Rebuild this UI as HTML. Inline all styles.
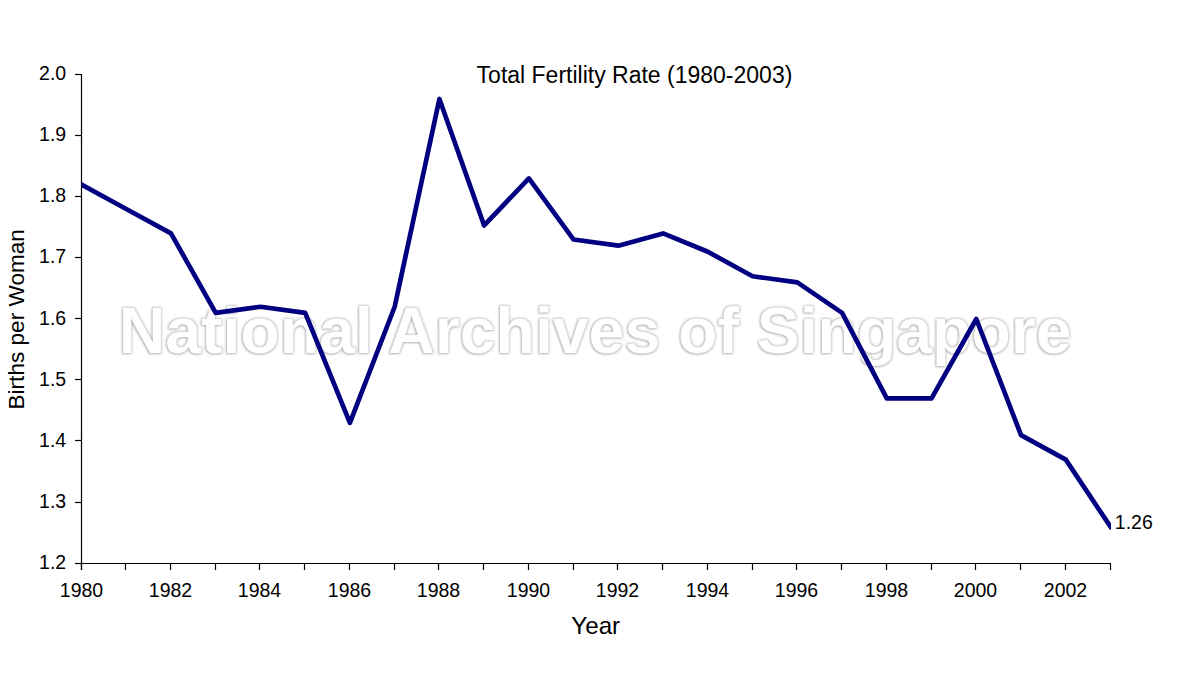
<!DOCTYPE html>
<html><head><meta charset="utf-8"><style>
html,body{margin:0;padding:0;background:#fff;overflow:hidden;}
svg{display:block;font-family:"Liberation Sans", sans-serif;}
</style></head><body>
<svg width="1193" height="676" viewBox="0 0 1193 676" >
<defs><filter id="blur" x="-5%" y="-20%" width="110%" height="140%"><feGaussianBlur stdDeviation="1.1"/></filter>
<filter id="wmo" x="-3%" y="-25%" width="106%" height="150%" color-interpolation-filters="sRGB">
<feMorphology in="SourceAlpha" operator="dilate" radius="1.2" result="dil"/>
<feGaussianBlur in="dil" stdDeviation="0.9" result="dilb"/>
<feComponentTransfer in="dilb" result="o1"><feFuncA type="linear" slope="0.2"/></feComponentTransfer>
<feOffset in="SourceAlpha" dx="-1.0" dy="1.0" result="off"/>
<feGaussianBlur in="off" stdDeviation="1.1" result="offb"/>
<feComponentTransfer in="offb" result="o2"><feFuncA type="linear" slope="0.13"/></feComponentTransfer>
<feMerge result="m"><feMergeNode in="o1"/><feMergeNode in="o2"/></feMerge>
<feComposite in="m" in2="SourceAlpha" operator="out"/>
</filter>
<clipPath id="plot"><rect x="81.5" y="0" width="1029.5" height="676"/></clipPath></defs>
<rect width="1193" height="676" fill="#fff"/>
<line x1="81.5" y1="74" x2="81.5" y2="570" stroke="#000" stroke-width="1.2"/><line x1="75" y1="563.5" x2="1111" y2="563.5" stroke="#000" stroke-width="1.2"/><line x1="75" y1="563.5" x2="81.5" y2="563.5" stroke="#000" stroke-width="1.2"/><text x="66.2" y="568.70" text-anchor="end" font-size="19.5">1.2</text><line x1="75" y1="502.5" x2="81.5" y2="502.5" stroke="#000" stroke-width="1.2"/><text x="66.2" y="507.57" text-anchor="end" font-size="19.5">1.3</text><line x1="75" y1="440.5" x2="81.5" y2="440.5" stroke="#000" stroke-width="1.2"/><text x="66.2" y="447.45" text-anchor="end" font-size="19.5">1.4</text><line x1="75" y1="379.5" x2="81.5" y2="379.5" stroke="#000" stroke-width="1.2"/><text x="66.2" y="386.32" text-anchor="end" font-size="19.5">1.5</text><line x1="75" y1="318.5" x2="81.5" y2="318.5" stroke="#000" stroke-width="1.2"/><text x="66.2" y="325.20" text-anchor="end" font-size="19.5">1.6</text><line x1="75" y1="257.5" x2="81.5" y2="257.5" stroke="#000" stroke-width="1.2"/><text x="66.2" y="263.07" text-anchor="end" font-size="19.5">1.7</text><line x1="75" y1="196.5" x2="81.5" y2="196.5" stroke="#000" stroke-width="1.2"/><text x="66.2" y="201.95" text-anchor="end" font-size="19.5">1.8</text><line x1="75" y1="135.5" x2="81.5" y2="135.5" stroke="#000" stroke-width="1.2"/><text x="66.2" y="140.82" text-anchor="end" font-size="19.5">1.9</text><line x1="75" y1="74.5" x2="81.5" y2="74.5" stroke="#000" stroke-width="1.2"/><text x="66.2" y="79.70" text-anchor="end" font-size="19.5">2.0</text><line x1="81.5" y1="563.5" x2="81.5" y2="570" stroke="#000" stroke-width="1.2"/><text x="81.50" y="596.7" text-anchor="middle" font-size="19.5">1980</text><line x1="125.5" y1="563.5" x2="125.5" y2="570" stroke="#000" stroke-width="1.2"/><line x1="170.5" y1="563.5" x2="170.5" y2="570" stroke="#000" stroke-width="1.2"/><text x="170.50" y="596.7" text-anchor="middle" font-size="19.5">1982</text><line x1="215.5" y1="563.5" x2="215.5" y2="570" stroke="#000" stroke-width="1.2"/><line x1="259.5" y1="563.5" x2="259.5" y2="570" stroke="#000" stroke-width="1.2"/><text x="259.50" y="596.7" text-anchor="middle" font-size="19.5">1984</text><line x1="304.5" y1="563.5" x2="304.5" y2="570" stroke="#000" stroke-width="1.2"/><line x1="349.5" y1="563.5" x2="349.5" y2="570" stroke="#000" stroke-width="1.2"/><text x="349.50" y="596.7" text-anchor="middle" font-size="19.5">1986</text><line x1="394.5" y1="563.5" x2="394.5" y2="570" stroke="#000" stroke-width="1.2"/><line x1="438.5" y1="563.5" x2="438.5" y2="570" stroke="#000" stroke-width="1.2"/><text x="438.50" y="596.7" text-anchor="middle" font-size="19.5">1988</text><line x1="483.5" y1="563.5" x2="483.5" y2="570" stroke="#000" stroke-width="1.2"/><line x1="528.5" y1="563.5" x2="528.5" y2="570" stroke="#000" stroke-width="1.2"/><text x="528.50" y="596.7" text-anchor="middle" font-size="19.5">1990</text><line x1="573.5" y1="563.5" x2="573.5" y2="570" stroke="#000" stroke-width="1.2"/><line x1="617.5" y1="563.5" x2="617.5" y2="570" stroke="#000" stroke-width="1.2"/><text x="617.50" y="596.7" text-anchor="middle" font-size="19.5">1992</text><line x1="662.5" y1="563.5" x2="662.5" y2="570" stroke="#000" stroke-width="1.2"/><line x1="707.5" y1="563.5" x2="707.5" y2="570" stroke="#000" stroke-width="1.2"/><text x="707.50" y="596.7" text-anchor="middle" font-size="19.5">1994</text><line x1="752.5" y1="563.5" x2="752.5" y2="570" stroke="#000" stroke-width="1.2"/><line x1="796.5" y1="563.5" x2="796.5" y2="570" stroke="#000" stroke-width="1.2"/><text x="796.50" y="596.7" text-anchor="middle" font-size="19.5">1996</text><line x1="841.5" y1="563.5" x2="841.5" y2="570" stroke="#000" stroke-width="1.2"/><line x1="886.5" y1="563.5" x2="886.5" y2="570" stroke="#000" stroke-width="1.2"/><text x="886.50" y="596.7" text-anchor="middle" font-size="19.5">1998</text><line x1="931.5" y1="563.5" x2="931.5" y2="570" stroke="#000" stroke-width="1.2"/><line x1="975.5" y1="563.5" x2="975.5" y2="570" stroke="#000" stroke-width="1.2"/><text x="975.50" y="596.7" text-anchor="middle" font-size="19.5">2000</text><line x1="1020.5" y1="563.5" x2="1020.5" y2="570" stroke="#000" stroke-width="1.2"/><line x1="1065.5" y1="563.5" x2="1065.5" y2="570" stroke="#000" stroke-width="1.2"/><text x="1065.50" y="596.7" text-anchor="middle" font-size="19.5">2002</text><line x1="1110.5" y1="563.5" x2="1110.5" y2="570" stroke="#000" stroke-width="1.2"/>
<g font-size="64.4" font-weight="bold"><text x="118.7" y="352.6" fill="#000" filter="url(#wmo)">National Archives of Singapore</text></g>

<polyline clip-path="url(#plot)" points="81.50,184.52 126.24,208.97 170.98,233.42 215.72,312.89 260.46,306.77 305.20,312.89 349.93,422.91 394.67,306.77 439.41,98.95 484.15,225.48 528.89,178.41 573.63,239.54 618.37,245.65 663.11,233.42 707.85,251.76 752.59,276.21 797.33,282.33 842.07,312.89 886.80,398.46 931.54,398.46 976.28,319.00 1021.02,435.14 1065.76,459.59 1110.50,526.82" fill="none" stroke="#000080" stroke-width="4.7" stroke-linejoin="round" stroke-linecap="square"/>
<text x="1114.8" y="528.7" font-size="19.5">1.26</text>
<text x="476.6" y="82.7" font-size="23">Total Fertility Rate (1980-2003)</text>
<text x="571.3" y="633.6" font-size="24.2">Year</text>
<text transform="translate(24.2,409.5) rotate(-90)" font-size="22.6">Births per Woman</text>
</svg>
</body></html>
